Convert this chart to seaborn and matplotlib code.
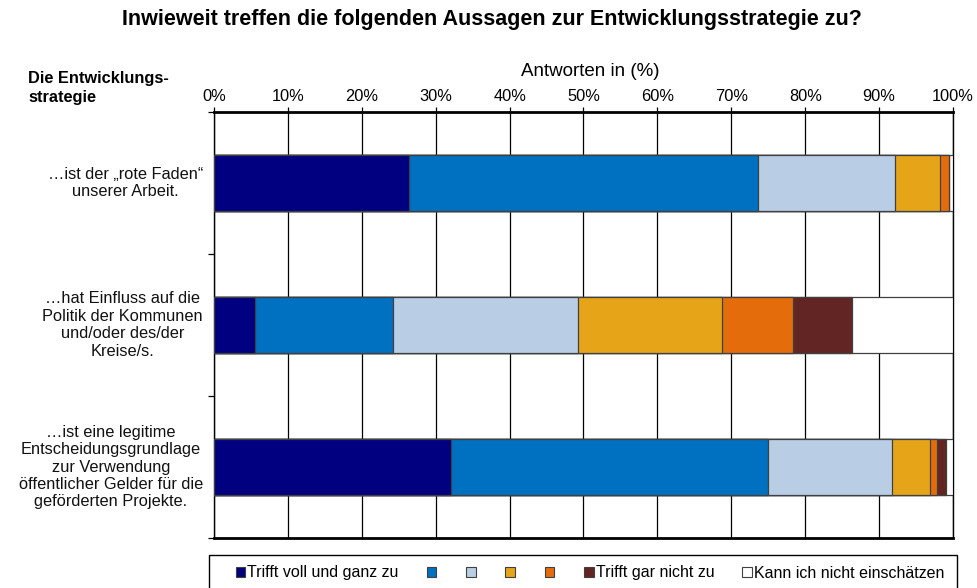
import matplotlib
matplotlib.use("Agg")
import matplotlib.pyplot as plt
import seaborn as sns
import pandas as pd
import numpy as np
from matplotlib.patches import Patch, Rectangle

# ---- data ----
statements = [
    "…ist der „rote Faden“\nunserer Arbeit.",
    "…hat Einfluss auf die\nPolitik der Kommunen\nund/oder des/der\nKreise/s.",
    "…ist eine legitime\nEntscheidungsgrundlage\nzur Verwendung\nöffentlicher Gelder für die\ngeförderten Projekte.",
]
series_labels = ["Trifft voll und ganz zu", "", "", "", "", "Trifft gar nicht zu",
                 "Kann ich nicht einschätzen"]
s1 = [26.4, 5.6, 32.1]
s2 = [47.2, 18.6, 42.9]
s3 = [18.5, 25.1, 16.7]
s4 = [6.1, 19.4, 5.2]
s5 = [1.3, 9.6, 0.9]
s6 = [0.0, 8.1, 1.3]
s7 = [0.5, 13.6, 0.9]
series = [s1, s2, s3, s4, s5, s6, s7]
xticks = [0, 10, 20, 30, 40, 50, 60, 70, 80, 90, 100]
colors = ["#000080", "#0070C0", "#B9CDE5", "#E6A519", "#E46C0A", "#632523", "#FFFFFF"]

sns.set_theme(style="white")
plt.rcParams["font.family"] = ["Liberation Sans", "DejaVu Sans"]
plt.rcParams["text.color"] = "black"
plt.rcParams["xtick.color"] = "black"
plt.rcParams["ytick.color"] = "black"

W, H = 978, 588
fig = plt.figure(figsize=(9.78, 5.88), dpi=100)
ax = fig.add_axes([214/W, 50/H, (953-214)/W, (538-112)/H])

# gridlines behind
for t in xticks:
    ax.axvline(t, color="#000000", lw=0.9, zorder=0)

keys = [f"k{i}" for i in range(len(statements))]
cum = np.zeros(len(statements))
cums = []
for s in series:
    cum = cum + np.array(s)
    cums.append(cum.copy())

# draw cumulative layers, rightmost first
for i in range(len(series) - 1, -1, -1):
    df = pd.DataFrame({"cat": keys, "val": cums[i]})
    sns.barplot(data=df, x="val", y="cat", orient="h", color=colors[i],
                width=0.4, edgecolor="#404040", linewidth=0.9, saturation=1,
                ax=ax, zorder=2 + (len(series) - i))

ax.set_xlim(0, 100)
ax.set_ylim(2.5, -0.5)
ax.set_xlabel("")
ax.set_ylabel("")
ax.xaxis.tick_top()
ax.set_xticks(xticks)
ax.set_xticklabels([f"{t}%" for t in xticks], fontsize=11.8)
ax.tick_params(axis="x", top=True, bottom=False, length=3.5, width=0.9, color="black",
               pad=2.5, direction="out")
ax.set_yticks([-0.5, 0.5, 1.5, 2.5])
ax.set_yticklabels([])
ax.tick_params(axis="y", left=True, length=4, width=0.9, color="black", direction="out")
for sp in ax.spines.values():
    sp.set_color("black")
    sp.set_linewidth(1.0)
ax.spines["top"].set_linewidth(2.0)
ax.spines["bottom"].set_linewidth(2.0)

for i, lab in enumerate(statements):
    ax.text(-1.5, i, lab, ha="right", va="center", multialignment="center",
            fontsize=11.8, transform=ax.transData, color="#111111")

fig.text(492/W, 1 - 20/H, "Inwieweit treffen die folgenden Aussagen zur Entwicklungsstrategie zu?",
         ha="center", va="center", fontsize=15.5, fontweight="bold")
fig.text(28/W, 1 - 88/H, "Die Entwicklungs-\nstrategie", ha="left", va="center",
         fontsize=11.8, fontweight="bold", linespacing=1.3)
fig.text(590/W, 1 - 71/H, "Antworten in (%)", ha="center", va="center", fontsize=13.5)

# legend frame
fig.patches.append(Rectangle((209/W, -0.02), (957-209)/W, (588-555)/H + 0.02,
                             transform=fig.transFigure, facecolor="white",
                             edgecolor="black", linewidth=1.0, zorder=1))
handles = [Patch(facecolor=c, edgecolor="#404040", linewidth=0.8) for c in colors]
leg = fig.legend(handles, series_labels, loc="center", ncol=7,
                 bbox_to_anchor=(590/W, 1 - 573/H), frameon=False,
                 fontsize=11.5, handlelength=0.6, handleheight=0.6,
                 handletextpad=0.12, columnspacing=1.75, borderpad=0.2)
leg.set_zorder(5)

fig.savefig("out.png", dpi=100)
